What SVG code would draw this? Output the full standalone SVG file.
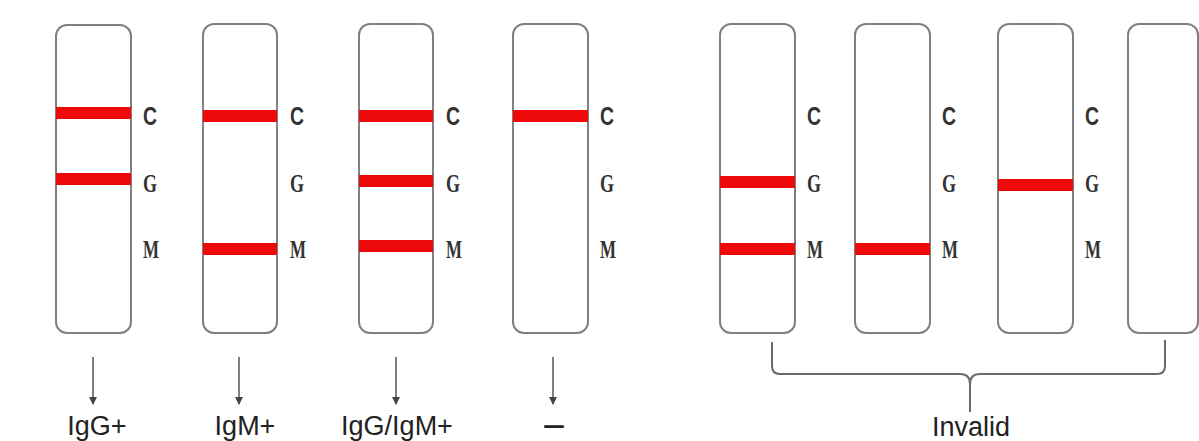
<svg xmlns="http://www.w3.org/2000/svg" width="1199" height="441" viewBox="0 0 1199 441">
<style>
.strip{fill:#fff;stroke:#808080;stroke-width:2}
.band{fill:#ee0a0a}
.lc{font-family:"Liberation Sans",Arial,sans-serif;font-weight:bold;font-size:25px;fill:#333}
.lg{font-family:"Liberation Serif","Times New Roman",serif;font-weight:bold;font-size:26px;fill:#333}
.res{font-family:"Liberation Sans",Arial,sans-serif;font-size:27px;fill:#222}
.conn{fill:none;stroke:#6a6a6a;stroke-width:2}
.arr{fill:none;stroke:#555;stroke-width:1.5}
</style>
<defs>
<marker id="ah" markerWidth="8" markerHeight="8" refX="7" refY="4" orient="auto" markerUnits="userSpaceOnUse">
<path d="M0,0 L8,4 L0,8 Z" fill="#444"/>
</marker>
</defs>
<rect width="1199" height="441" fill="#fff"/>
<g id="strip1">
<rect class="strip" x="56" y="25" width="75" height="308" rx="11"/>
<rect class="band" x="56" y="107" width="75" height="12"/>
<rect class="band" x="56" y="173" width="75" height="12"/>
<text class="lc" x="143" y="125" textLength="14" lengthAdjust="spacingAndGlyphs">C</text>
<text class="lg" x="143" y="192" textLength="14" lengthAdjust="spacingAndGlyphs">G</text>
<text class="lg" x="143" y="258" textLength="16" lengthAdjust="spacingAndGlyphs">M</text>
</g>
<g id="strip2">
<rect class="strip" x="203" y="24" width="74" height="309" rx="11"/>
<rect class="band" x="203" y="110" width="74" height="12"/>
<rect class="band" x="203" y="243" width="74" height="12"/>
<text class="lc" x="290" y="125" textLength="14" lengthAdjust="spacingAndGlyphs">C</text>
<text class="lg" x="290" y="192" textLength="14" lengthAdjust="spacingAndGlyphs">G</text>
<text class="lg" x="290" y="258" textLength="16" lengthAdjust="spacingAndGlyphs">M</text>
</g>
<g id="strip3">
<rect class="strip" x="359" y="24" width="74" height="309" rx="11"/>
<rect class="band" x="359" y="110" width="74" height="12"/>
<rect class="band" x="359" y="175" width="74" height="12"/>
<rect class="band" x="359" y="240" width="74" height="12"/>
<text class="lc" x="446" y="125" textLength="14" lengthAdjust="spacingAndGlyphs">C</text>
<text class="lg" x="446" y="192" textLength="14" lengthAdjust="spacingAndGlyphs">G</text>
<text class="lg" x="446" y="258" textLength="16" lengthAdjust="spacingAndGlyphs">M</text>
</g>
<g id="strip4">
<rect class="strip" x="513" y="24" width="75" height="309" rx="11"/>
<rect class="band" x="513" y="110" width="75" height="12"/>
<text class="lc" x="600" y="125" textLength="14" lengthAdjust="spacingAndGlyphs">C</text>
<text class="lg" x="600" y="192" textLength="14" lengthAdjust="spacingAndGlyphs">G</text>
<text class="lg" x="600" y="258" textLength="16" lengthAdjust="spacingAndGlyphs">M</text>
</g>
<g id="strip5">
<rect class="strip" x="720" y="24" width="75" height="309" rx="11"/>
<rect class="band" x="720" y="176" width="75" height="12"/>
<rect class="band" x="720" y="243" width="75" height="12"/>
<text class="lc" x="807" y="125" textLength="14" lengthAdjust="spacingAndGlyphs">C</text>
<text class="lg" x="807" y="192" textLength="14" lengthAdjust="spacingAndGlyphs">G</text>
<text class="lg" x="807" y="258" textLength="16" lengthAdjust="spacingAndGlyphs">M</text>
</g>
<g id="strip6">
<rect class="strip" x="855" y="24" width="75" height="309" rx="11"/>
<rect class="band" x="855" y="243" width="75" height="12"/>
<text class="lc" x="942" y="125" textLength="14" lengthAdjust="spacingAndGlyphs">C</text>
<text class="lg" x="942" y="192" textLength="14" lengthAdjust="spacingAndGlyphs">G</text>
<text class="lg" x="942" y="258" textLength="16" lengthAdjust="spacingAndGlyphs">M</text>
</g>
<g id="strip7">
<rect class="strip" x="998" y="24" width="75" height="309" rx="11"/>
<rect class="band" x="998" y="179" width="75" height="12"/>
<text class="lc" x="1085" y="125" textLength="14" lengthAdjust="spacingAndGlyphs">C</text>
<text class="lg" x="1085" y="192" textLength="14" lengthAdjust="spacingAndGlyphs">G</text>
<text class="lg" x="1085" y="258" textLength="16" lengthAdjust="spacingAndGlyphs">M</text>
</g>
<g id="strip8">
<rect class="strip" x="1128" y="24" width="70" height="309" rx="11"/>
</g>
<g id="connectors">
<path class="arr" d="M93,357 V404" marker-end="url(#ah)"/>
<path class="arr" d="M239,357 V404" marker-end="url(#ah)"/>
<path class="arr" d="M396,357 V404" marker-end="url(#ah)"/>
<path class="arr" d="M553,357 V404" marker-end="url(#ah)"/>
<path class="conn" d="M772,342 V366 Q772,374 780,374 H960 Q970,374 970,384 V412"/>
<path class="conn" d="M1165,340 V366 Q1165,374 1157,374 H980 Q970,374 970,384"/>
</g>
<g id="labels">
<text class="res" x="97" y="435" text-anchor="middle">IgG+</text>
<text class="res" x="245" y="435" text-anchor="middle">IgM+</text>
<text class="res" x="397" y="435" text-anchor="middle">IgG/IgM+</text>
<text class="res" x="554" y="434" text-anchor="middle" font-size="30" font-weight="bold" textLength="22" lengthAdjust="spacingAndGlyphs">–</text>
<text class="res" x="971" y="436" text-anchor="middle">Invalid</text>
</g>
</svg>
